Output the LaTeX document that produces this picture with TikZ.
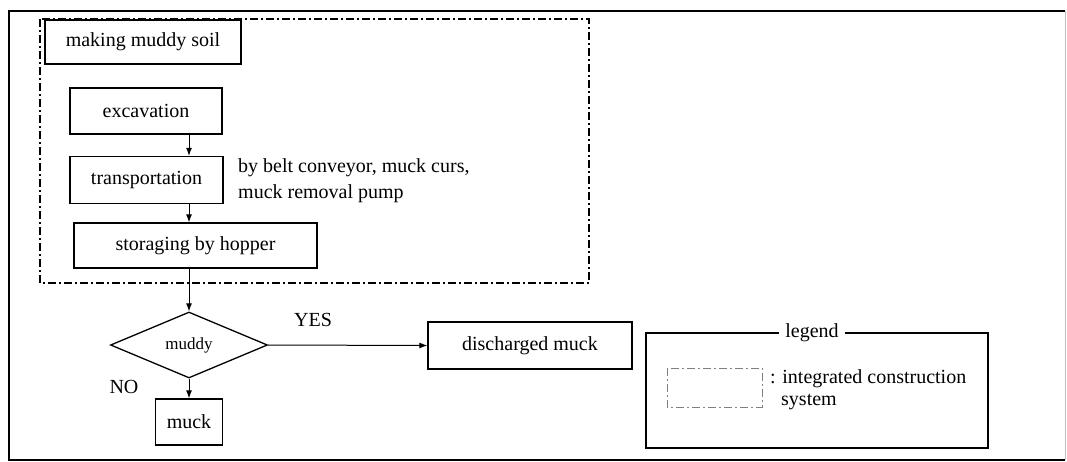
\documentclass[tikz,border=0pt]{standalone}
\usepackage{fontspec}
\setmainfont{Liberation Serif}
\usetikzlibrary{shapes.geometric,arrows.meta}
\begin{document}
\begin{tikzpicture}[x=1pt,y=-1pt,
  box/.style={draw,line width=1.3pt,fill=white,inner sep=0pt,font=\fontsize{20}{24}\selectfont},
  lbl/.style={inner sep=0pt,font=\fontsize{20}{26}\selectfont},
  arr/.style={line width=1pt,-{Latex[length=8pt,width=6pt]}},
  dd/.style={line width=1.3pt,dash pattern=on 8pt off 3pt on 2pt off 3pt}]
\useasboundingbox (0,0) rectangle (1067,462);
% outer frame
\draw[line width=1.6pt] (1065,11) -- (9,11) -- (9,460) -- (1065,460);
\draw[line width=1pt,gray!50] (1065,11) -- (1065,460);
% integrated construction system region
\draw[dd] (40,19) rectangle (589,283);
% nodes
\node[box,minimum width=196pt,minimum height=44pt] (making) at (143,42) {making muddy soil};
\node[box,minimum width=152pt,minimum height=46pt] (exc) at (146,111) {excavation};
\node[box,minimum width=153pt,minimum height=47pt] (trans) at (146.5,180) {transportation};
\node[box,minimum width=243pt,minimum height=45pt] (stor) at (195.5,245.5) {storaging by hopper};
\node[box,shape=diamond,minimum width=157pt,minimum height=66pt,font=\fontsize{17}{20}\selectfont] (dia) at (189,345) {muddy};
\node[box,minimum width=204pt,minimum height=47pt] (disc) at (530,345.5) {discharged muck};
\node[box,minimum width=67pt,minimum height=46pt] (muck) at (189,422) {muck};
% labels
\node[lbl,anchor=west,align=left] (note) at (238,181) {by belt conveyor, muck curs,\\muck removal pump};
\node[lbl] (yes) at (313,320) {YES};
\node[lbl] (no) at (124,387) {NO};
% connectors
\draw[arr] (exc.south -| dia.north) -- (trans.north -| dia.north);
\draw[arr] (trans.south -| dia.north) -- (stor.north -| dia.north);
\draw[arr] (stor.south -| dia.north) -- (dia.north);
\draw[arr] (dia.east) -- (disc.west);
\draw[arr] (dia.south) -- (muck.north);
% legend
\draw[line width=1.3pt] (646,333) rectangle (988,448);
\node[lbl,fill=white,inner xsep=6pt] (legtitle) at (812,333) {legend};
\draw[dd,line width=1pt,gray] (667,368) rectangle (762,407);
\node[lbl,anchor=north west,align=left,font=\fontsize{20}{22}\selectfont] (legtext) at (770,369) {: integrated construction\\\hspace*{11pt}system};
\end{tikzpicture}
\end{document}
